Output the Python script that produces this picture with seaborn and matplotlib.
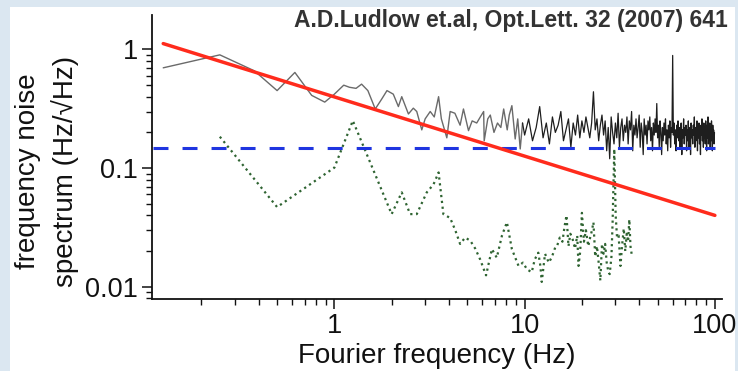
import numpy as np
import pandas as pd
import matplotlib
matplotlib.use("Agg")
import matplotlib.pyplot as plt
import seaborn as sns
from matplotlib.patches import Rectangle
from matplotlib.ticker import LogLocator, NullFormatter

# measured spectrum, low-frequency part (Hz, Hz/sqrt(Hz))
meas_low_f = [0.126, 0.25, 0.38, 0.50, 0.62, 0.76, 0.89, 1.0, 1.12, 1.2,
              1.3, 1.39, 1.5, 1.64, 1.77, 1.89, 2.04, 2.17, 2.26, 2.45,
              2.6, 2.71, 2.88, 3.0, 3.19, 3.35, 3.53, 3.65, 3.9, 4.06,
              4.3, 4.58, 4.77, 5.07, 5.3, 5.6, 5.85, 6.09, 6.13, 6.4,
              6.6, 6.9, 7.2, 7.5, 7.76, 8.1, 8.3, 8.57, 8.92, 9.2,
              9.48, 9.75]
meas_low_v = [0.70, 0.90, 0.66, 0.45, 0.64, 0.41, 0.36, 0.42, 0.50, 0.48,
              0.47, 0.51, 0.45, 0.315, 0.38, 0.45, 0.42, 0.33, 0.40, 0.286,
              0.32, 0.30, 0.21, 0.26, 0.30, 0.27, 0.40, 0.26, 0.18, 0.30,
              0.29, 0.23, 0.315, 0.207, 0.25, 0.24, 0.27, 0.30, 0.17, 0.26,
              0.28, 0.20, 0.24, 0.22, 0.315, 0.21, 0.28, 0.336, 0.176, 0.26,
              0.145, 0.24]

# measured spectrum above 10 Hz, 0.5 Hz bins
meas_high_f0, meas_high_df = 10.0, 0.5
meas_high_v = [
    0.19, 0.26, 0.17, 0.22, 0.33, 0.18, 0.24, 0.16, 0.27, 0.20,
    0.23, 0.30, 0.17, 0.21, 0.26, 0.15, 0.24, 0.19, 0.28, 0.18,
    0.25, 0.20, 0.27, 0.22, 0.18, 0.24, 0.44, 0.21, 0.26, 0.17,
    0.23, 0.28, 0.19, 0.25, 0.14, 0.22, 0.12, 0.27, 0.20, 0.16,
    0.24, 0.18, 0.29, 0.15, 0.22, 0.26, 0.17, 0.23, 0.20, 0.27,
    0.16, 0.25, 0.21, 0.30, 0.14, 0.23, 0.19, 0.26, 0.18, 0.22,
    0.28, 0.15, 0.24, 0.20, 0.13, 0.26, 0.19, 0.23, 0.16, 0.25,
    0.21, 0.27, 0.17, 0.22, 0.14, 0.24, 0.19, 0.26, 0.20, 0.35,
    0.18, 0.23, 0.15, 0.25, 0.20, 0.13, 0.22, 0.17, 0.24, 0.19,
    0.26, 0.16, 0.21, 0.14, 0.23, 0.18, 0.25, 0.15, 0.22, 0.20,
    0.89, 0.19, 0.24, 0.16, 0.21, 0.14, 0.23, 0.18, 0.25, 0.17,
    0.22, 0.15, 0.20, 0.24, 0.13, 0.21, 0.18, 0.26, 0.16, 0.22,
    0.19, 0.23, 0.14, 0.21, 0.17, 0.25, 0.15, 0.20, 0.22, 0.13,
    0.24, 0.18, 0.21, 0.16, 0.23, 0.19, 0.27, 0.15, 0.22, 0.17,
    0.20, 0.25, 0.14, 0.22, 0.18, 0.24, 0.16, 0.21, 0.13, 0.23,
    0.19, 0.26, 0.17, 0.22, 0.15, 0.24, 0.18, 0.21, 0.16, 0.25,
    0.20, 0.14, 0.23, 0.18, 0.27, 0.16, 0.21, 0.19, 0.24, 0.15,
    0.22, 0.17, 0.25, 0.19, 0.14, 0.23, 0.18, 0.21, 0.16, 0.20,
]

# green dotted spectrum
green_f = [0.25, 0.50, 1.0, 1.25, 2.0, 2.26, 2.5, 2.71, 3.06, 3.32,
           3.53, 3.74, 4.06, 4.32, 4.58, 4.87, 5.18, 5.5, 5.84, 6.27,
           6.73, 7.14, 7.6, 8.07, 8.57, 9.29, 9.8, 10.3, 10.9, 11.3,
           11.8, 12.1, 12.3, 12.8, 13.4, 13.9, 14.5, 14.8, 15.3, 15.8,
           16.2, 16.6, 17.0, 17.4, 17.9, 18.4, 18.9, 19.2, 19.6, 20.0,
           20.5, 21.0, 21.6, 22.1, 22.6, 23.0, 23.5, 24.0, 24.5, 25.0,
           25.5, 26.0, 26.5, 27.0, 27.6, 28.0, 28.6, 29.0, 29.6, 30.1,
           30.6, 31.2, 31.9, 32.5, 33.2, 33.8, 34.4, 35.0, 35.5, 36.0,
           36.5]
green_v = [0.184, 0.047, 0.101, 0.251, 0.041, 0.0625, 0.041, 0.041, 0.0625, 0.073,
           0.092, 0.041, 0.038, 0.030, 0.023, 0.026, 0.0245, 0.021, 0.017, 0.0125,
           0.0208, 0.0176, 0.027, 0.035, 0.0208, 0.015, 0.016, 0.014, 0.0133, 0.017,
           0.0194, 0.015, 0.011, 0.019, 0.016, 0.0178, 0.0216, 0.022, 0.026, 0.024,
           0.032, 0.040, 0.022, 0.028, 0.025, 0.021, 0.027, 0.015, 0.020, 0.042,
           0.024, 0.030, 0.022, 0.026, 0.030, 0.035, 0.018, 0.022, 0.016, 0.0113,
           0.023, 0.019, 0.023, 0.016, 0.0132, 0.0128, 0.018, 0.035, 0.145, 0.040,
           0.026, 0.027, 0.015, 0.022, 0.031, 0.020, 0.028, 0.024, 0.037, 0.022,
           0.019]

# 1/sqrt(f) line and flat level
red_f = [0.126, 100]
red_v = [1.12, 0.04]
blue_f = [0.112, 100]
blue_v = [0.148, 0.148]

meas_high_f = meas_high_f0 + meas_high_df * np.arange(len(meas_high_v))
meas_lo = pd.DataFrame({"f": meas_low_f, "v": meas_low_v})
# join the dense part onto the last low-frequency point
meas_hi = pd.DataFrame({"f": np.concatenate([meas_low_f[-1:], meas_high_f]),
                        "v": np.concatenate([meas_low_v[-1:], meas_high_v])})
green = pd.DataFrame({"f": green_f, "v": green_v})
red = pd.DataFrame({"f": red_f, "v": red_v})
blue = pd.DataFrame({"f": blue_f, "v": blue_v})

sns.set_style("ticks")
plt.rcParams["font.family"] = ["Liberation Sans", "DejaVu Sans"]

fig = plt.figure(figsize=(7.38, 3.71), dpi=100)
fig.patch.set_facecolor("#dbe7f1")
fig.patches.append(Rectangle((10 / 738, 0), 725 / 738, 1 - 7 / 371,
                             transform=fig.transFigure, facecolor="white",
                             edgecolor="none", zorder=-5))
ax = fig.add_axes([152 / 738, 72 / 371, 570 / 738, 284 / 371])
ax.set_facecolor("none")

sns.lineplot(data=meas_lo, x="f", y="v", ax=ax, color="#6a6a6a", lw=1.0,
             estimator=None, sort=False, zorder=2)
sns.lineplot(data=meas_hi, x="f", y="v", ax=ax, color="#1e1e1e", lw=0.9,
             estimator=None, sort=False, zorder=2)
sns.lineplot(data=green, x="f", y="v", ax=ax, color="#2f6432", lw=1.6,
             linestyle=":", estimator=None, sort=False, zorder=3)
sns.lineplot(data=blue, x="f", y="v", ax=ax, color="#1f35e0", lw=2.2,
             estimator=None, sort=False, zorder=4)
ax.lines[-1].set_dashes((4.9, 4.6))
sns.lineplot(data=red, x="f", y="v", ax=ax, color="#ff2b1c", lw=2.5,
             estimator=None, sort=False, zorder=5)

ax.set_xscale("log")
ax.set_yscale("log")
ax.set_xlim(0.11, 109)
ax.set_ylim(0.0079, 1.95)

ax.set_xticks([1, 10, 100], ["1", "10", "100"])
ax.set_yticks([0.01, 0.1, 1], ["0.01", "0.1", "1"])
ax.xaxis.set_minor_locator(LogLocator(base=10, subs=np.arange(2, 10)))
ax.yaxis.set_minor_locator(LogLocator(base=10, subs=np.arange(2, 10)))
ax.xaxis.set_minor_formatter(NullFormatter())
ax.yaxis.set_minor_formatter(NullFormatter())
ax.tick_params(which="major", direction="out", length=7, width=1.1,
               labelsize=19.5, pad=3, colors="#111111")
ax.tick_params(which="minor", direction="out", length=4, width=1.0,
               colors="#111111")

sns.despine(ax=ax)
for side in ["left", "bottom"]:
    ax.spines[side].set_linewidth(1.3)
    ax.spines[side].set_color("#111111")

ax.set_xlabel("Fourier frequency (Hz)", fontsize=20, labelpad=3,
              color="#111111")
ax.set_ylabel("")
fig.text(47 / 738, 1 - 171 / 371, "frequency noise\nspectrum (Hz/\u221aHz)",
         rotation=90, ha="center", va="center", fontsize=20,
         linespacing=1.45, color="#111111")

fig.text(728 / 738, 1 - 20 / 371, "A.D.Ludlow et.al, Opt.Lett. 32 (2007) 641",
         ha="right", va="center", fontsize=16.5, fontweight="bold",
         color="#333333")

plt.savefig("out.png", dpi=100, facecolor=fig.get_facecolor())
plt.close()
